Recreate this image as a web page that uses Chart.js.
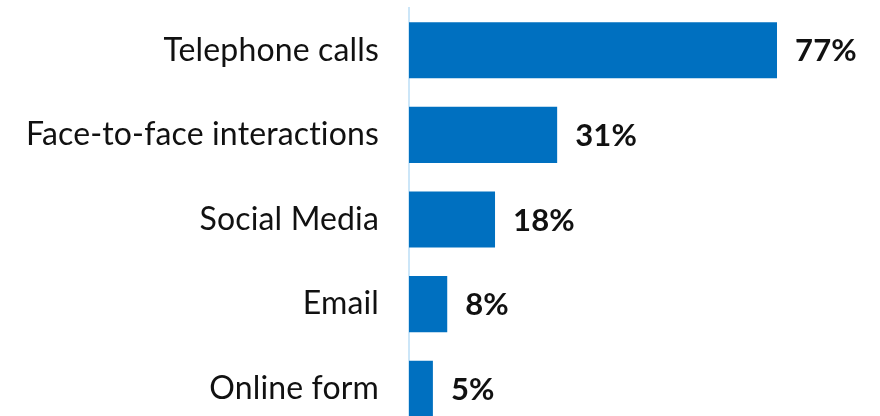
<!DOCTYPE html>
<html>
<head>
<meta charset="utf-8">
<script src="https://cdn.jsdelivr.net/npm/chart.js@4"></script>
<style>
  html, body { margin: 0; padding: 0; background: #fff; overflow: hidden; }
  #wrap { position: absolute; left: 0; top: 0; width: 880px; height: 431px; }
</style>
</head>
<body>
<div id="wrap"><canvas id="c"></canvas></div>
<script>
const categories = ["Telephone calls", "Face-to-face interactions", "Social Media", "Email", "Online form"];
const values = [77, 31, 18, 8, 5];
const valueLabels = ["77%", "31%", "18%", "8%", "5%"];

const noLigatures = {
  id: 'noLigatures',
  beforeDraw(chart) {
    try { chart.ctx.textRendering = 'optimizeLegibility'; } catch (e) {}
    try { chart.ctx.letterSpacing = '0.15px'; } catch (e) {}
  }
};

const valueLabelPlugin = {
  id: 'valueLabels',
  afterDatasetsDraw(chart) {
    const ctx = chart.ctx;
    const meta = chart.getDatasetMeta(0);
    ctx.save();
    ctx.font = 'bold 31px Lato';
    ctx.fillStyle = '#111111';
    ctx.textAlign = 'left';
    ctx.textBaseline = 'middle';
    meta.data.forEach((bar, i) => {
      ctx.fillText(valueLabels[i], bar.x + 18, bar.y + 1);
    });
    ctx.restore();
  }
};

new Chart(document.getElementById('c'), {
  type: 'bar',
  data: {
    labels: categories,
    datasets: [{
      data: values,
      backgroundColor: '#0070C0',
      borderWidth: 0,
      categoryPercentage: 1,
      barPercentage: 0.663
    }]
  },
  options: {
    indexAxis: 'y',
    responsive: true,
    maintainAspectRatio: false,
    animation: false,
    layout: { padding: { top: 8, right: 0, bottom: 0, left: 0 } },
    plugins: { legend: { display: false }, tooltip: { enabled: false } },
    scales: {
      x: { display: false, min: 0, max: 98.55 },
      y: {
        afterFit(s) { s.width = 409; s.paddingTop = 0; s.paddingBottom = 0; },
        grid: { display: false, drawTicks: false },
        border: { display: true, color: '#CCE6F8', width: 2 },
        ticks: { color: '#111111', font: { family: 'Lato', size: 32 }, padding: 30 }
      }
    }
  },
  plugins: [noLigatures, valueLabelPlugin]
});
</script>
</body>
</html>
